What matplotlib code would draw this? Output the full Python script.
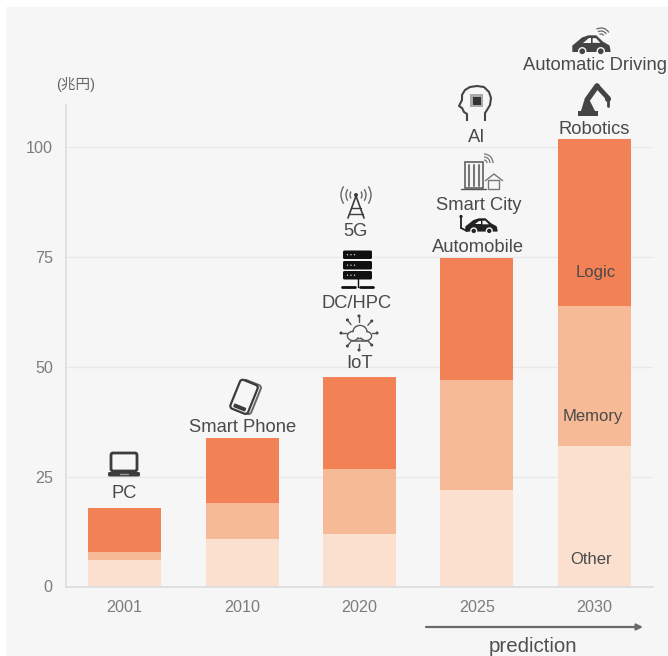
import numpy as np
import matplotlib
matplotlib.use('Agg')
import matplotlib.pyplot as plt
from matplotlib.patches import Rectangle, FancyBboxPatch, Circle, Polygon, Arc, Ellipse
from matplotlib.transforms import Affine2D

plt.rcParams['font.family'] = ['Liberation Sans', 'Noto Sans CJK JP', 'DejaVu Sans']

years = ['2001', '2010', '2020', '2025', '2030']
other = [6, 10.8, 12, 22, 32]
memory = [1.9, 8.2, 14.8, 25, 31.8]
logic = [9.9, 14.8, 20.9, 27.8, 37.9]
y_ticks = [0, 25, 50, 75, 100]

W, H = 668, 656
GREY = '#4a4a4a'
DARK = '#3c3c3c'
PANEL = '#f6f6f6'

fig = plt.figure(figsize=(W / 100, H / 100), dpi=100, facecolor='white')
fig.patches.append(Rectangle((6 / W, 0), 662 / W, 649 / H, transform=fig.transFigure,
                             facecolor=PANEL, edgecolor='none', zorder=-5))

# Main axes
ax = fig.add_axes([66 / W, (H - 586.5) / H, 587 / W, 481.5 / H])
ax.set_facecolor('none')
x = np.arange(len(years))
ax.bar(x, other, 0.622, color='#fbe0cf', zorder=3)
ax.bar(x, memory, 0.622, bottom=other, color='#f6bb96', zorder=3)
ax.bar(x, logic, 0.622, bottom=np.add(other, memory), color='#f28155', zorder=3)
ax.set_xlim(-0.5, 4.5)
ax.set_ylim(0, 109.5)
ax.set_xticks(x, years)
ax.set_yticks(y_ticks)
ax.tick_params(length=0, labelsize=11.6, labelcolor='#7c7c7c')
ax.tick_params(axis='x', pad=10)
ax.tick_params(axis='y', pad=9.5)
ax.grid(axis='y', color='#e9e9e9', lw=1, zorder=0)
for s in ['top', 'right']:
    ax.spines[s].set_visible(False)
for s in ['left', 'bottom']:
    ax.spines[s].set_color('#dcdcdc')
    ax.spines[s].set_linewidth(1.2)
    ax.spines[s].set_zorder(4)

# Overlay in pixel coordinates for labels and icons
ov = fig.add_axes([0, 0, 1, 1])
ov.set_xlim(0, W)
ov.set_ylim(H, 0)
ov.axis('off')
ov.patch.set_alpha(0)


def label(px, py, s, size=13.2, color=GREY):
    ov.text(px, py + 1, s, fontsize=size, color=color, ha='center', va='center')


def line(xs, ys, lw=1.2, color=DARK):
    ov.plot(xs, ys, color=color, lw=lw, solid_capstyle='round')


def box(x0, y0, w, h, fc=DARK, ec='none', lw=1.0, r=1.0, trans=None):
    p = FancyBboxPatch((x0, y0), w, h, boxstyle=f'round,pad=0,rounding_size={r}',
                       fc=fc, ec=ec, lw=lw)
    ov.add_patch(p)
    if trans is not None:
        p.set_transform(trans + ov.transData)


def wifi(cx, cy, rot, color='#555555'):
    for r in [3, 6, 9]:
        ov.add_patch(Arc((cx, cy), 2 * r, 2 * r, theta1=-rot - 45, theta2=-rot + 45,
                         color=color, lw=0.9))


def laptop():
    box(111, 453, 26, 18, fc='none', ec=DARK, lw=2.0, r=2)
    box(108, 472, 32, 4.5, fc=DARK, r=1.5)
    line([120, 128], [473.5, 473.5], 1.0, '#999999')


def phone():
    t = Affine2D().rotate_deg_around(246, 396, 22)
    box(238, 381, 19, 31, fc='none', ec='#666666', lw=1.4, r=3, trans=t)
    box(235, 382, 19, 31, fc=PANEL, ec=DARK, lw=1.6, r=3, trans=t)
    box(238, 407, 13, 4, fc=DARK, r=1, trans=t)


def tower():
    c = 356
    ov.add_patch(Circle((c, 195), 2, fc=DARK, ec='none'))
    line([c, c - 8], [196, 218], 1.2)
    line([c, c + 8], [196, 218], 1.2)
    line([c - 5, c + 5], [208, 208], 1.0)
    line([c - 7, c + 7], [214, 214], 1.0)
    for r in [6, 10, 15]:
        ov.add_patch(Arc((c, 195), 2 * r, 2 * r, theta1=145, theta2=215, color='#666666', lw=1.0))
        ov.add_patch(Arc((c, 195), 2 * r, 2 * r, theta1=-35, theta2=35, color='#666666', lw=1.0))


def server():
    for y0 in [250.5, 261, 271]:
        box(343, y0, 29, 8.5, fc='#111111', r=1.5)
        for dx in [4.5, 8, 11.5]:
            ov.add_patch(Circle((343 + dx, y0 + 4.2), 0.7, fc='#dddddd', ec='none'))
    line([357.5, 357.5], [279, 287], 1.0, '#111111')
    line([342, 355], [286.5, 286.5], 2.0, '#111111')
    line([360, 373], [286.5, 286.5], 2.0, '#111111')


def iot_cloud():
    cx, cy = 359, 333
    lobes = [(353, 336, 11, 9), (360, 332, 14, 13), (366, 336, 11, 9)]
    # outline first, then fill the inside so only the union edge stays
    for px, py, w, h in lobes:
        ov.add_patch(Ellipse((px, py), w, h, fc='none', ec='#555555', lw=1.1, zorder=2))
    for px, py, w, h in lobes:
        ov.add_patch(Ellipse((px, py), w - 1.6, h - 1.6, fc=PANEL, ec='none', zorder=2.1))
    line([352, 367], [340.5, 340.5], 1.1, '#555555')
    for a in np.radians([90, 45, 0, -45, -90, -130, 180, 130]):
        x1, y1 = cx + 12.5 * np.cos(a), cy - 11 * np.sin(a)
        x2, y2 = cx + 18 * np.cos(a), cy - 17 * np.sin(a)
        line([x1, x2], [y1, y2], 1.0, '#555555')
        ov.add_patch(Circle((x2, y2), 1.5, fc=DARK, ec='none'))


def head():
    pts = [(467, 121), (467, 114), (464, 112), (462, 108), (459, 106), (462, 100), (462, 95),
           (465, 90), (470, 87), (477, 86), (484, 87), (489, 92), (491, 98), (490, 105),
           (487, 110), (485, 113), (485, 121)]
    ov.add_patch(Polygon(pts, closed=False, fc='none', ec='#444444', lw=1.5, joinstyle='round'))
    ov.add_patch(Rectangle((470, 94), 13, 13, fc='#a8a8a8', ec='none'))
    ov.add_patch(Rectangle((472.5, 96.5), 8, 8, fc='#333333', ec='none'))


def smart_city():
    ov.add_patch(Rectangle((465, 162), 18, 26, fc='none', ec='#555555', lw=1.1))
    for xx in [469, 474, 479]:
        line([xx, xx], [165, 186], 1.5, '#777777')
    line([461, 486], [188.5, 188.5], 1.0, '#555555')
    ov.add_patch(Polygon([(485, 181), (494, 174), (503, 181)], closed=False, fc='none', ec='#777777', lw=1.0))
    ov.add_patch(Rectangle((488, 180), 11, 8.5, fc='none', ec='#777777', lw=1.0))
    wifi(484, 163, 45, '#777777')


def car(x0, y0, w, h, color=DARK):
    body = [(x0, y0 + 0.85 * h), (x0, y0 + 0.55 * h), (x0 + 0.08 * w, y0 + 0.42 * h),
            (x0 + 0.25 * w, y0 + 0.12 * h), (x0 + 0.42 * w, y0), (x0 + 0.62 * w, y0),
            (x0 + 0.8 * w, y0 + 0.35 * h), (x0 + 0.97 * w, y0 + 0.55 * h), (x0 + w, y0 + 0.85 * h)]
    ov.add_patch(Polygon(body, closed=True, fc=color, ec=color, lw=1, joinstyle='round'))
    ov.add_patch(Polygon([(x0 + 0.42 * w, y0 + 0.12 * h), (x0 + 0.49 * w, y0 + 0.12 * h),
                          (x0 + 0.49 * w, y0 + 0.38 * h), (x0 + 0.28 * w, y0 + 0.38 * h)],
                         fc=PANEL, ec='none'))
    ov.add_patch(Polygon([(x0 + 0.53 * w, y0 + 0.12 * h), (x0 + 0.62 * w, y0 + 0.12 * h),
                          (x0 + 0.74 * w, y0 + 0.38 * h), (x0 + 0.53 * w, y0 + 0.38 * h)],
                         fc=PANEL, ec='none'))
    for fx in [0.25, 0.75]:
        ov.add_patch(Circle((x0 + fx * w, y0 + 0.85 * h), 0.17 * h + 0.5, fc=color, ec=PANEL, lw=1))


def robot():
    c = '#444444'
    ov.add_patch(Rectangle((578, 111), 20, 5, fc=c, ec='none'))
    ov.add_patch(Polygon([(581, 111), (584, 101), (590, 101), (595, 111)], fc=c, ec='none'))
    line([587, 597], [100, 86], 4, c)
    line([597, 608], [86, 98], 3.5, c)
    ov.add_patch(Circle((608, 99), 3, fc=c, ec='none'))
    line([608, 608], [101, 106], 2, c)


laptop()
phone()
tower()
server()
iot_cloud()
head()
smart_city()
line([461, 461], [217, 228], 1.3, '#222222')
ov.add_patch(Circle((461, 216.5), 1.6, fc='#222222', ec='none'))
line([461, 467], [228, 231], 1.3, '#222222')
car(466, 219, 31, 14, '#222222')
robot()
car(573, 36, 37, 18, '#444444')
wifi(601, 37, 75, '#666666')

label(124, 493, 'PC')
label(243, 426, 'Smart Phone')
label(359, 363, 'IoT')
label(357, 302, 'DC/HPC')
label(356, 230, '5G')
label(478, 247, 'Automobile')
label(479, 204, 'Smart City')
label(477, 136, 'AI')
label(594, 128, 'Robotics')
label(595, 65, 'Automatic Driving')
label(596, 272, 'Logic', 12)
label(593, 415, 'Memory', 12)
label(591, 559, 'Other', 12)
label(76, 83, '(兆円)', 10.5, '#666666')
label(533, 646, 'prediction', 14.8, '#4f4f4f')
ov.annotate('', xy=(643, 627), xytext=(426, 627),
            arrowprops=dict(arrowstyle='-|>', color='#6a6a6a', lw=1.6, mutation_scale=9,
                            shrinkA=0, shrinkB=0))

fig.savefig('out.png', dpi=100, facecolor='white')
